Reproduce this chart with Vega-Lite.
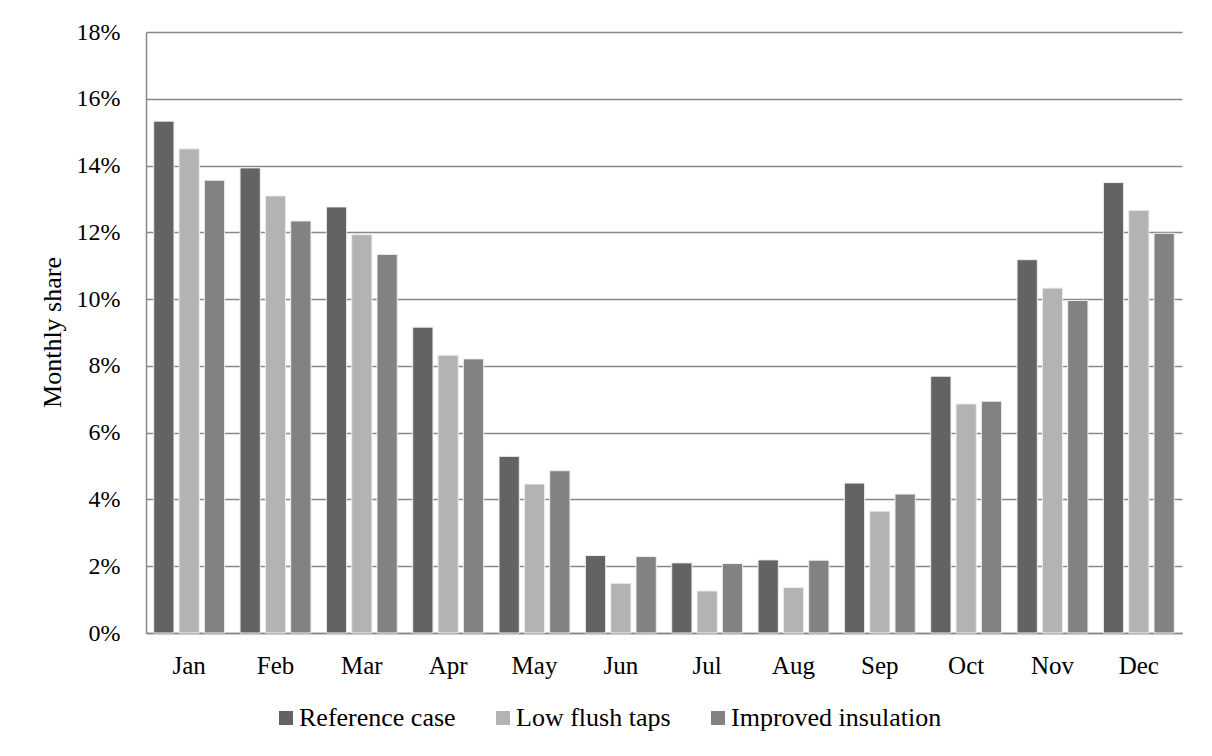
{
  "$schema": "https://vega.github.io/schema/vega-lite/v6.json",
  "width": 1036,
  "height": 601,
  "autosize": "none",
  "padding": {"left": 146, "top": 32, "right": 30, "bottom": 123},
  "background": "white",
  "data": {
    "values": [
      {"month": "Jan", "scenario": "Reference case", "share": 0.1533},
      {"month": "Jan", "scenario": "Low flush taps", "share": 0.1450},
      {"month": "Jan", "scenario": "Improved insulation", "share": 0.1356},
      {"month": "Feb", "scenario": "Reference case", "share": 0.1393},
      {"month": "Feb", "scenario": "Low flush taps", "share": 0.1309},
      {"month": "Feb", "scenario": "Improved insulation", "share": 0.1234},
      {"month": "Mar", "scenario": "Reference case", "share": 0.1276},
      {"month": "Mar", "scenario": "Low flush taps", "share": 0.1193},
      {"month": "Mar", "scenario": "Improved insulation", "share": 0.1134},
      {"month": "Apr", "scenario": "Reference case", "share": 0.0916},
      {"month": "Apr", "scenario": "Low flush taps", "share": 0.0832},
      {"month": "Apr", "scenario": "Improved insulation", "share": 0.0821},
      {"month": "May", "scenario": "Reference case", "share": 0.0529},
      {"month": "May", "scenario": "Low flush taps", "share": 0.0446},
      {"month": "May", "scenario": "Improved insulation", "share": 0.0486},
      {"month": "Jun", "scenario": "Reference case", "share": 0.0232},
      {"month": "Jun", "scenario": "Low flush taps", "share": 0.0149},
      {"month": "Jun", "scenario": "Improved insulation", "share": 0.0229},
      {"month": "Jul", "scenario": "Reference case", "share": 0.0210},
      {"month": "Jul", "scenario": "Low flush taps", "share": 0.0126},
      {"month": "Jul", "scenario": "Improved insulation", "share": 0.0208},
      {"month": "Aug", "scenario": "Reference case", "share": 0.0219},
      {"month": "Aug", "scenario": "Low flush taps", "share": 0.0136},
      {"month": "Aug", "scenario": "Improved insulation", "share": 0.0218},
      {"month": "Sep", "scenario": "Reference case", "share": 0.0449},
      {"month": "Sep", "scenario": "Low flush taps", "share": 0.0365},
      {"month": "Sep", "scenario": "Improved insulation", "share": 0.0416},
      {"month": "Oct", "scenario": "Reference case", "share": 0.0769},
      {"month": "Oct", "scenario": "Low flush taps", "share": 0.0686},
      {"month": "Oct", "scenario": "Improved insulation", "share": 0.0694},
      {"month": "Nov", "scenario": "Reference case", "share": 0.1118},
      {"month": "Nov", "scenario": "Low flush taps", "share": 0.1033},
      {"month": "Nov", "scenario": "Improved insulation", "share": 0.0996},
      {"month": "Dec", "scenario": "Reference case", "share": 0.1349},
      {"month": "Dec", "scenario": "Low flush taps", "share": 0.1266},
      {"month": "Dec", "scenario": "Improved insulation", "share": 0.1197}
    ]
  },
  "mark": {"type": "bar", "stroke": "#eeeeee", "strokeWidth": 1},
  "encoding": {
    "x": {
      "field": "month",
      "type": "nominal",
      "sort": ["Jan", "Feb", "Mar", "Apr", "May", "Jun", "Jul", "Aug", "Sep", "Oct", "Nov", "Dec"],
      "scale": {"paddingInner": 0.12, "paddingOuter": 0.06},
      "axis": {
        "title": null,
        "labelAngle": 0,
        "ticks": false,
        "labelPadding": 20,
        "labelFontSize": 25,
        "domainColor": "#888888",
        "domainWidth": 1.5
      }
    },
    "xOffset": {
      "field": "scenario",
      "type": "nominal",
      "sort": ["Reference case", "Low flush taps", "Improved insulation"],
      "scale": {"paddingInner": 0.2, "paddingOuter": 0.1}
    },
    "y": {
      "field": "share",
      "type": "quantitative",
      "scale": {"domain": [0, 0.18], "nice": false},
      "axis": {
        "title": "Monthly share",
        "format": ".0%",
        "values": [0, 0.02, 0.04, 0.06, 0.08, 0.1, 0.12, 0.14, 0.16, 0.18],
        "ticks": false,
        "labelPadding": 26,
        "labelFontSize": 24,
        "titleFontSize": 26,
        "titleX": -94,
        "titleY": 300,
        "titleAlign": "center",
        "titleBaseline": "middle",
        "grid": true,
        "gridColor": "#888888",
        "gridWidth": 1.5,
        "domainColor": "#888888",
        "domainWidth": 1.5
      }
    },
    "color": {
      "field": "scenario",
      "type": "nominal",
      "sort": ["Reference case", "Low flush taps", "Improved insulation"],
      "scale": {
        "domain": ["Reference case", "Low flush taps", "Improved insulation"],
        "range": ["#636363", "#b3b3b3", "#828282"]
      },
      "legend": {
        "title": null,
        "orient": "none",
        "direction": "horizontal",
        "legendX": 127,
        "legendY": 673,
        "padding": 0,
        "symbolType": "square",
        "symbolSize": 196,
        "symbolStrokeWidth": 0,
        "labelOffset": 0,
        "labelLimit": 500,
        "labelFontSize": 26,
        "columnPadding": 34
      }
    }
  },
  "config": {
    "font": "Liberation Serif",
    "view": {"stroke": null},
    "axis": {
      "labelFont": "Liberation Serif",
      "labelColor": "#000000",
      "titleFont": "Liberation Serif",
      "titleFontWeight": "normal",
      "titleColor": "#000000"
    },
    "legend": {
      "labelFont": "Liberation Serif",
      "labelColor": "#000000"
    }
  }
}
